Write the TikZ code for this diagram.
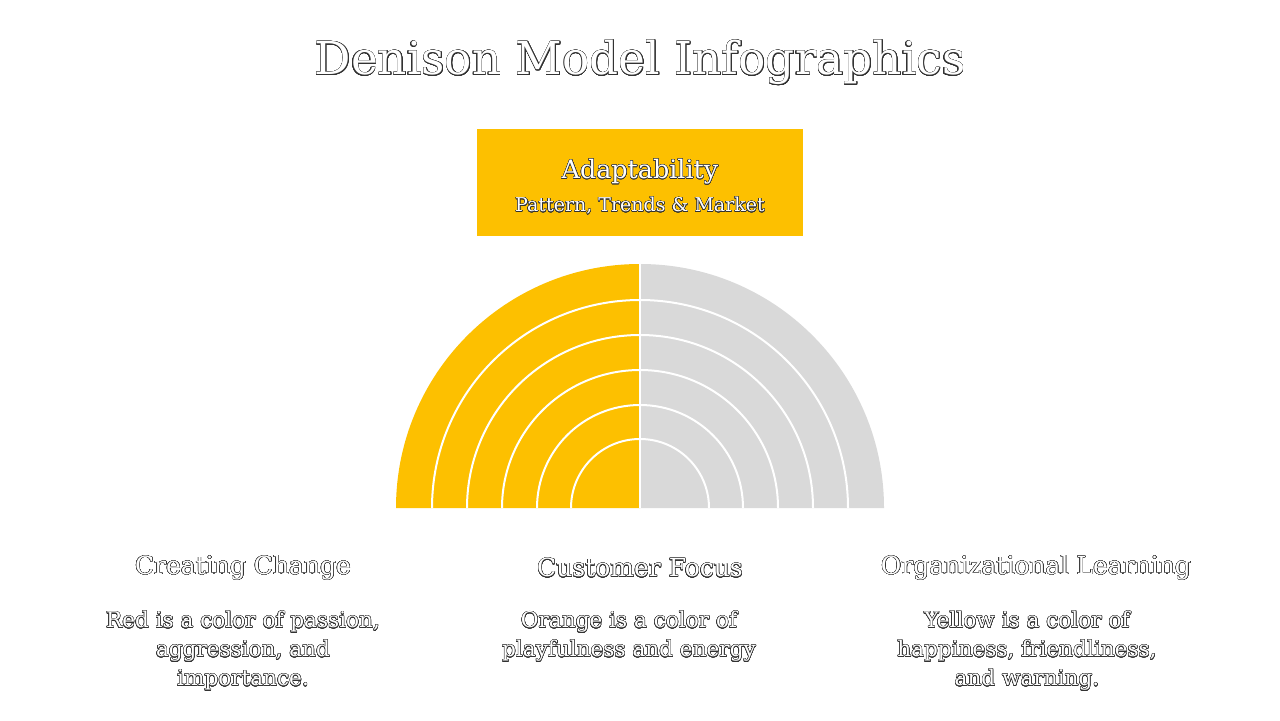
\documentclass[tikz,border=0pt]{standalone}
\usepackage{fontspec}
\setmainfont{DejaVu Serif}
\usepackage{contour}
\contourlength{0.22pt}
\contournumber{24}
\usetikzlibrary{positioning}
\definecolor{dmyellow}{RGB}{253,192,0}
\definecolor{dmgray}{RGB}{217,217,217}
\definecolor{dmline}{RGB}{50,50,50}
\newcommand{\otxt}[1]{\contour{dmline}{#1}}
\tikzset{
  hollow/.style={text=white,inner sep=0pt,align=center},
  heading/.style={hollow,font=\fontsize{12.5}{14}\selectfont},
  blurb/.style={hollow,anchor=north,font=\fontsize{10.8}{14.5}\selectfont}
}

\begin{document}
\begin{tikzpicture}[x=0.5pt,y=0.5pt]
  \useasboundingbox[fill=white] (0,0) rectangle (1280,720);
  % Title
  \node[hollow,font=\fontsize{22.7}{26}\selectfont] (title) at (640,657) {\otxt{Denison Model Infographics}};
  % Adaptability box
  \fill[dmyellow] (477,484) rectangle (803,591);
  \node[hollow,font=\fontsize{12.7}{15}\selectfont] (adapt) at (640,548) {\otxt{Adaptability}};
  \node[hollow,font=\fontsize{9.5}{11}\selectfont] (adaptsub) at (640,514) {\otxt{Pattern, Trends \& Market}};
  % Half rings
  \fill[dmyellow] (640,212) -- (396,212) arc[start angle=180,end angle=90,radius=244] -- cycle;
  \fill[dmgray] (640,212) -- (884,212) arc[start angle=0,end angle=90,radius=244] -- cycle;
  \foreach \r in {208,173,138,103,69} {
    \draw[white,line width=1pt] (640-\r,212) arc[start angle=180,end angle=0,radius=\r];
  }
  \draw[white,line width=1pt] (640,212) -- (640,457);
  % Three columns
  \node[heading] (change) at (243,152) {\otxt{Creating Change}};
  \node[heading] (focus) at (640,152) {\otxt{Customer Focus}};
  \node[heading] (learn) at (1036,152) {\otxt{Organizational Learning}};
  \node[blurb] (changetxt) at (243,109) {\otxt{Red is a color of passion,}\\\otxt{aggression, and}\\\otxt{importance.}};
  \node[blurb] (focustxt) at (629,109) {\otxt{Orange is a color of}\\\otxt{playfulness and energy}};
  \node[blurb] (learntxt) at (1027,109) {\otxt{Yellow is a color of}\\\otxt{happiness, friendliness,}\\\otxt{and warning.}};
\end{tikzpicture}
\end{document}
